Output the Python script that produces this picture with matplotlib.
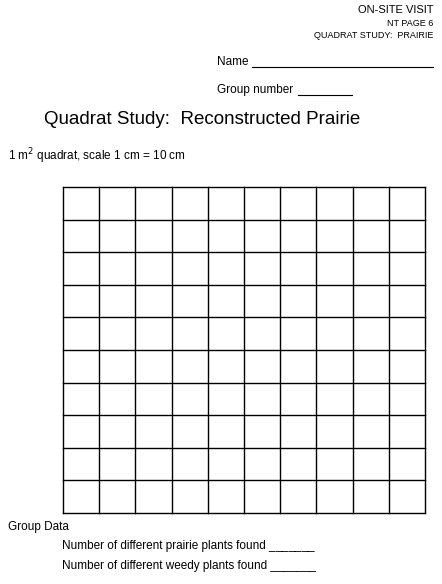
import matplotlib
matplotlib.use("Agg")
import matplotlib.pyplot as plt

plt.rcParams["font.family"] = ["Liberation Sans", "DejaVu Sans"]

W, H = 442, 584
n_rows = 10
n_cols = 10
# grid box in pixel coords (top-left origin)
grid_left, grid_right = 63, 425
grid_top, grid_bottom = 187, 513

fig = plt.figure(figsize=(W / 100, H / 100), dpi=100)
ax = fig.add_axes([0, 0, 1, 1])
ax.set_xlim(0, W)
ax.set_ylim(H, 0)
ax.axis("off")

def txt(x, y, s, size=8, ha="left", **kw):
    ax.text(x, y, s, fontsize=size, ha=ha, va="center", **kw)

txt(433, 10, "ON-SITE VISIT", 8, ha="right")
txt(433, 23, "NT PAGE 6", 6.5, ha="right")
txt(433, 35, "QUADRAT STUDY:  PRAIRIE", 6.5, ha="right")

txt(217, 62, "Name", 8.5)
ax.plot([252, 433], [67, 67], color="black", lw=0.8)
txt(217, 90, "Group number", 8.5)
ax.plot([298, 352], [95, 95], color="black", lw=0.8)

txt(202, 119, "Quadrat Study:  Reconstructed Prairie", 13.5, ha="center")
txt(8, 156, "1 m$^2$ quadrat, scale 1 cm = 10 cm", 8.5)

# quadrat grid
cw = (grid_right - grid_left) / n_cols
rh = (grid_bottom - grid_top) / n_rows
for i in range(n_cols + 1):
    x = grid_left + i * cw
    ax.plot([x, x], [grid_top, grid_bottom], color="black", lw=1)
for j in range(n_rows + 1):
    y = grid_top + j * rh
    ax.plot([grid_left, grid_right], [y, y], color="black", lw=1)

txt(8, 527, "Group Data", 8.5)
txt(62, 546, "Number of different prairie plants found _______", 8.5)
txt(62, 566, "Number of different weedy plants found _______", 8.5)

fig.savefig("out.png", dpi=100)
